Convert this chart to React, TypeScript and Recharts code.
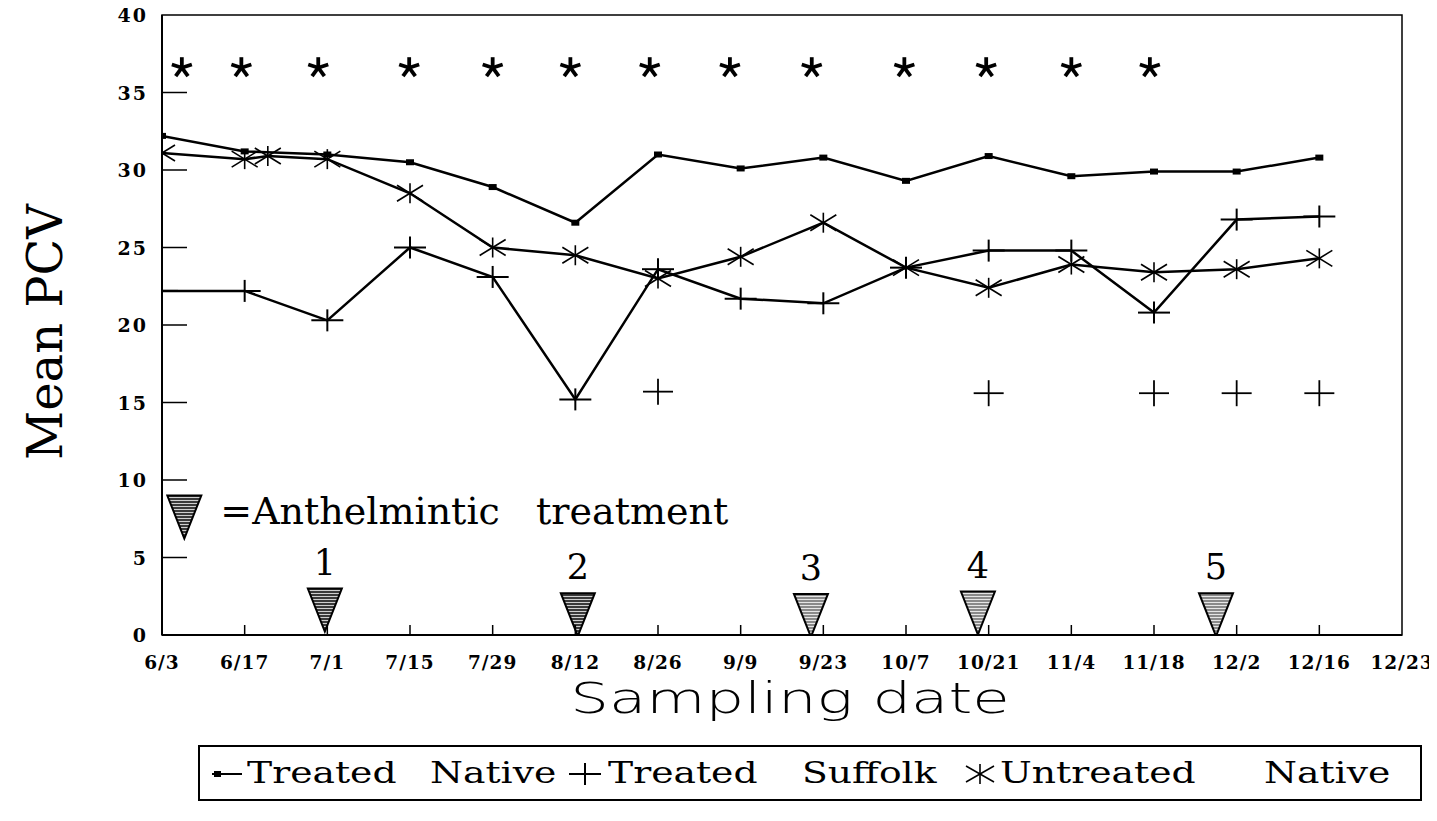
import React from 'react';
import { ComposedChart, Line, Scatter, XAxis, YAxis, ReferenceArea } from 'recharts';

const dateLabels = ['6/3', '6/17', '7/1', '7/15', '7/29', '8/12', '8/26', '9/9', '9/23', '10/7', '10/21', '11/4', '11/18', '12/2', '12/16', '12/23'];
const xTicks = dateLabels.map((_, i) => i);
const yTicks = [0, 5, 10, 15, 20, 25, 30, 35, 40];

const sampleIdx = [0, 1, 2, 3, 4, 5, 6, 7, 8, 9, 10, 11, 12, 13, 14];
const treatedNativeValues = [32.2, 31.2, 31.0, 30.5, 28.9, 26.6, 31.0, 30.1, 30.8, 29.3, 30.9, 29.6, 29.9, 29.9, 30.8];
const treatedSuffolkValues = [22.2, 22.2, 20.3, 25.0, 23.1, 15.2, 23.6, 21.7, 21.4, 23.7, 24.8, 24.8, 20.8, 26.8, 27.0];
const untreatedNativeIdx = [0, 1, 1.28, 2, 3, 4, 5, 6, 7, 8, 9, 10, 11, 12, 13, 14];
const untreatedNativeValues = [31.1, 30.7, 30.9, 30.7, 28.5, 25.0, 24.5, 23.0, 24.4, 26.6, 23.7, 22.4, 23.9, 23.4, 23.6, 24.3];

const suffolkExtraIdx = [6, 10, 12, 13, 14];
const suffolkExtraValues = [15.7, 15.6, 15.6, 15.6, 15.6];

const signifIdx = [0.24, 0.96, 1.89, 2.99, 4.0, 4.94, 5.9, 6.87, 7.86, 8.98, 9.97, 11.0, 11.95];
const signifLevel = 36.6;

const treatmentIdx = [1.97, 5.03, 7.85, 9.87, 12.75];
const treatmentTop = [3.0, 2.7, 2.65, 2.8, 2.7];
const treatmentLabels = ['1', '2', '3', '4', '5'];
const treatmentKeyIdx = 0.27;
const treatmentKeyTop = 9.0;
const treatmentKeyText = '=Anthelmintic\u00a0\u00a0\u00a0treatment';

const legendWords = [
  ['Treated', 'Native'],
  ['Treated', 'Suffolk'],
  ['Untreated', 'Native'],
];

const tnData = sampleIdx.map((x, i) => ({ x, y: treatedNativeValues[i] }));
const tsData = sampleIdx.map((x, i) => ({ x, y: treatedSuffolkValues[i] }));
const unData = untreatedNativeIdx.map((x, i) => ({ x, y: untreatedNativeValues[i] }));
const tsExtraData = suffolkExtraIdx.map((x, i) => ({ x, y: suffolkExtraValues[i] }));
const signifData = signifIdx.map((x) => ({ x, y: signifLevel }));
const treatmentData = treatmentIdx.map((x, i) => ({ x, y: treatmentTop[i], label: treatmentLabels[i], dark: i < 2 }));
const keyData = [{ x: treatmentKeyIdx, y: treatmentKeyTop }];

const SERIF = '"DejaVu Serif", "Liberation Serif", serif';

const squareDot = (p: any) => (
  <rect key={`tn-${p.index}`} x={p.cx - 4} y={p.cy - 3} width={8} height={6} fill="#000" />
);
const plusDot = (p: any) => (
  <g key={`ts-${p.index}`} stroke="#000" strokeWidth={2}>
    <line x1={p.cx - 16} x2={p.cx + 16} y1={p.cy} y2={p.cy} />
    <line x1={p.cx} x2={p.cx} y1={p.cy - 11} y2={p.cy + 11} />
  </g>
);
const starDot = (p: any) => (
  <g key={`un-${p.index}`} stroke="#000" strokeWidth={1.6}>
    <line x1={p.cx} x2={p.cx} y1={p.cy - 10} y2={p.cy + 10} />
    <line x1={p.cx - 13} x2={p.cx + 13} y1={p.cy - 8} y2={p.cy + 8} />
    <line x1={p.cx - 13} x2={p.cx + 13} y1={p.cy + 8} y2={p.cy - 8} />
  </g>
);
const extraPlus = (p: any) => (
  <g stroke="#000" strokeWidth={1.8}>
    <line x1={p.cx - 15} x2={p.cx + 15} y1={p.cy} y2={p.cy} />
    <line x1={p.cx} x2={p.cx} y1={p.cy - 13} y2={p.cy + 13} />
  </g>
);
const signifStar = (p: any) => {
  const arms = [0, 72, 144, 216, 288].map((a) => {
    const r = (a * Math.PI) / 180;
    return { x: p.cx + 10.5 * Math.sin(r), y: p.cy - 10.5 * Math.cos(r) };
  });
  return (
    <g stroke="#000" strokeWidth={3.8} strokeLinecap="butt">
      {arms.map((a, i) => (
        <line key={i} x1={p.cx} y1={p.cy} x2={a.x} y2={a.y} />
      ))}
    </g>
  );
};

const Patterns = () => (
  <defs>
    <pattern id="hatchDark" width="4" height="3" patternUnits="userSpaceOnUse">
      <rect width="4" height="3" fill="#3a3a3a" />
      <rect y="2" width="4" height="1" fill="#cfcfcf" />
    </pattern>
    <pattern id="hatchLight" width="4" height="3" patternUnits="userSpaceOnUse">
      <rect width="4" height="3" fill="#8a8a8a" />
      <rect y="2" width="4" height="1" fill="#e6e6e6" />
    </pattern>
  </defs>
);

const treatmentShape = (p: any) => {
  const { cx, cy } = p;
  const d = p.payload?.dark;
  const w = 17;
  const h = 43;
  return (
    <g>
      {p.index === 0 && <Patterns />}
      <path d={`M${cx - w},${cy} L${cx + w},${cy} L${cx},${cy + h} Z`} fill={d ? 'url(#hatchDark)' : 'url(#hatchLight)'} stroke="#000" strokeWidth={2} />
      <text x={cx} y={cy - 14} textAnchor="middle" fontFamily={SERIF} fontSize={35} fill="#000">
        {p.payload?.label}
      </text>
    </g>
  );
};

const keyShape = (p: any) => {
  const { cx, cy } = p;
  const w = 17;
  const h = 43;
  return (
    <g>
      <Patterns />
      <path d={`M${cx - w},${cy} L${cx + w},${cy} L${cx},${cy + h} Z`} fill="url(#hatchDark)" stroke="#000" strokeWidth={2} />
      <text x={cx + 36} y={cy + 28} fontFamily={SERIF} fontSize={38} fill="#000">
        {treatmentKeyText}
      </text>
    </g>
  );
};

const YTick = (props: any) => {
  const { x, y, payload } = props;
  const v = payload.value;
  return (
    <g>
      {v > 0 && v < 40 && <line x1={x} x2={x + 25} y1={y} y2={y} stroke="#000" strokeWidth={1.5} />}
      <text x={x - 14} y={y} textAnchor="end" dominantBaseline="central" fontFamily={SERIF} fontWeight="bold" fontSize={19} letterSpacing={2} fill="#000">
        {v}
      </text>
    </g>
  );
};

const XTick = (props: any) => {
  const { x, y, payload } = props;
  const v = payload.value;
  return (
    <g>
      {v > 0 && v < 15 && <line x1={x} x2={x} y1={y} y2={y - 10} stroke="#000" strokeWidth={1.5} />}
      <text x={x} y={y + 27} textAnchor="middle" dominantBaseline="central" fontFamily={SERIF} fontWeight="bold" fontSize={18.5} letterSpacing={1} fill="#000">
        {dateLabels[v]}
      </text>
    </g>
  );
};

const yLabel = (props: any) => {
  const vb = props.viewBox || { x: 102, y: 15, width: 60, height: 620 };
  const cx = vb.x - 57;
  const cy = vb.y + vb.height / 2 + 7;
  return (
    <text x={cx} y={cy} transform={`rotate(-90 ${cx} ${cy})`} textAnchor="middle" dominantBaseline="central" fontFamily={SERIF} fontSize={48} fill="#000">
      Mean PCV
    </text>
  );
};

const xLabel = (props: any) => {
  const vb = props.viewBox || { x: 162, y: 635, width: 1240, height: 40 };
  const cx = vb.x + vb.width / 2 + 8;
  const cy = vb.y + 78;
  return (
    <text transform={`translate(${cx} ${cy}) scale(1.45 1)`} x={0} y={0} textAnchor="middle" fontFamily='"DejaVu Sans", "Liberation Sans", sans-serif' fontWeight={200} fontSize={42} fill="#000">
      Sampling date
    </text>
  );
};

const LegendWord = ({ left, children }: { left: number; children: React.ReactNode }) => (
  <span
    style={{
      position: 'absolute',
      left,
      top: 8,
      fontFamily: SERIF,
      fontSize: 29,
      whiteSpace: 'pre',
      lineHeight: '36px',
      transform: 'scaleX(1.3)',
      transformOrigin: 'left center',
    }}
  >
    {children}
  </span>
);

const LegendBox = () => {
  const L = 198;
  return (
    <div style={{ position: 'absolute', left: L, top: 745, width: 1224, height: 56, border: '2px solid #000', boxSizing: 'border-box' }}>
      <svg style={{ position: 'absolute', left: 208 - L, top: 15 }} width={36} height={24}>
        <line x1={2} x2={32} y1={12} y2={12} stroke="#000" strokeWidth={2} />
        <rect x={4} y={9} width={7} height={6} fill="#000" />
      </svg>
      <LegendWord left={245 - L}>{legendWords[0][0]}</LegendWord>
      <LegendWord left={428 - L}>{legendWords[0][1]}</LegendWord>
      <svg style={{ position: 'absolute', left: 565 - L, top: 13 }} width={36} height={28}>
        <line x1={2} x2={34} y1={14} y2={14} stroke="#000" strokeWidth={2} />
        <line x1={18} x2={18} y1={3} y2={25} stroke="#000" strokeWidth={2} />
      </svg>
      <LegendWord left={606 - L}>{legendWords[1][0]}</LegendWord>
      <LegendWord left={800 - L}>{legendWords[1][1]}</LegendWord>
      <svg style={{ position: 'absolute', left: 960 - L, top: 13 }} width={36} height={28}>
        <g stroke="#000" strokeWidth={1.6}>
          <line x1={18} x2={18} y1={4} y2={24} />
          <line x1={4} x2={32} y1={6} y2={22} />
          <line x1={4} x2={32} y1={22} y2={6} />
        </g>
      </svg>
      <LegendWord left={998 - L}>{legendWords[2][0]}</LegendWord>
      <LegendWord left={1262 - L}>{legendWords[2][1]}</LegendWord>
    </div>
  );
};

export default function App() {
  return (
    <div style={{ position: 'relative', width: 1437, height: 821, margin: '-8px 0 0 -8px', background: '#fff' }}>
      <ComposedChart width={1437} height={821} margin={{ top: 15, right: 35, left: 102, bottom: 146 }}>
        <XAxis
          dataKey="x"
          type="number"
          domain={[0, 15]}
          ticks={xTicks}
          interval={0}
          tickSize={0}
          tickMargin={0}
          tickLine={false}
          tick={<XTick />}
          axisLine={{ stroke: '#000', strokeWidth: 2 }}
          height={40}
          allowDataOverflow
          label={xLabel}
        />
        <YAxis
          type="number"
          domain={[0, 40]}
          ticks={yTicks}
          interval={0}
          tickSize={0}
          tickMargin={0}
          tickLine={false}
          tick={<YTick />}
          axisLine={{ stroke: '#000', strokeWidth: 2 }}
          width={60}
          allowDataOverflow
          label={yLabel}
        />
        <ReferenceArea x1={0} x2={15} y1={0} y2={40} fill="none" fillOpacity={0} stroke="#000" strokeWidth={1.5} />
        <Line data={tnData} dataKey="y" stroke="#000" strokeWidth={2.5} dot={squareDot} activeDot={false} isAnimationActive={false} />
        <Line data={tsData} dataKey="y" stroke="#000" strokeWidth={2.5} dot={plusDot} activeDot={false} isAnimationActive={false} />
        <Line data={unData} dataKey="y" stroke="#000" strokeWidth={2.5} dot={starDot} activeDot={false} isAnimationActive={false} />
        <Scatter data={tsExtraData} dataKey="y" shape={extraPlus} isAnimationActive={false} />
        <Scatter data={signifData} dataKey="y" shape={signifStar} isAnimationActive={false} />
        <Scatter data={treatmentData} dataKey="y" shape={treatmentShape} isAnimationActive={false} />
        <Scatter data={keyData} dataKey="y" shape={keyShape} isAnimationActive={false} />
      </ComposedChart>
      <LegendBox />
    </div>
  );
}
